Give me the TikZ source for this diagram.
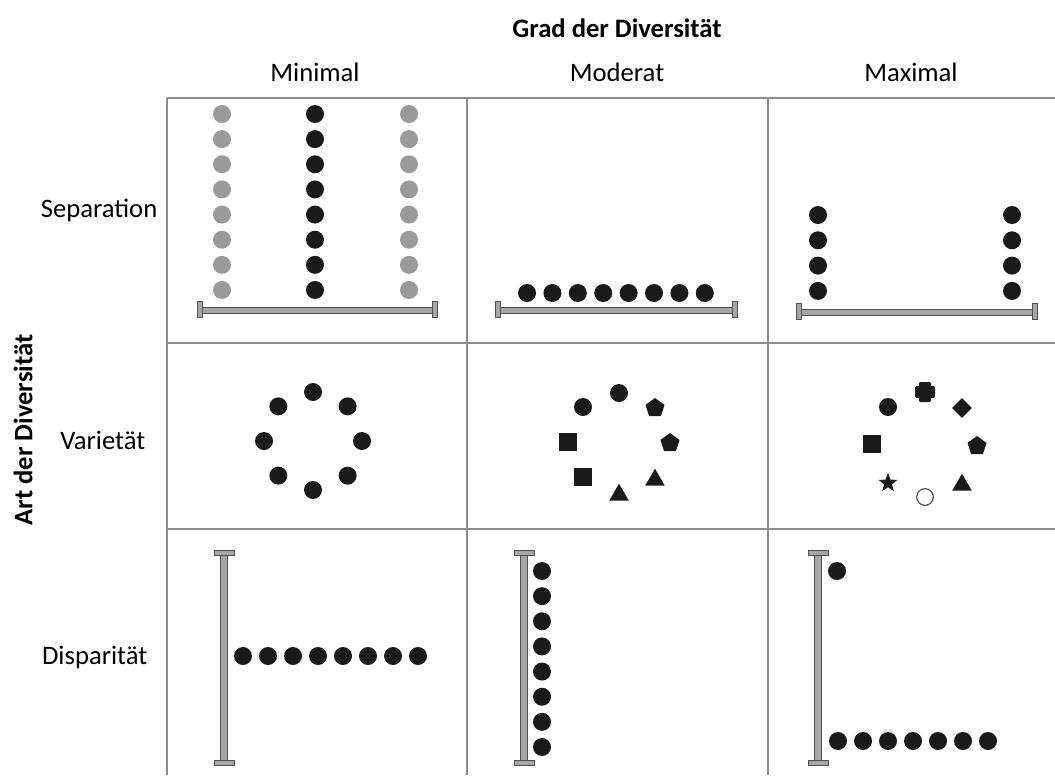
\documentclass[tikz,border=0pt]{standalone}
\usepackage{fontspec}
\setmainfont{Carlito}
\usetikzlibrary{shapes.geometric}
\definecolor{dotblack}{HTML}{1A1A1A}
\definecolor{dotgray}{HTML}{9A9A9A}
\definecolor{gridgray}{HTML}{8C8C8C}
\definecolor{rodfill}{HTML}{A6A6A6}
\definecolor{rodedge}{HTML}{505050}
\begin{document}
\begin{tikzpicture}[x=0.75pt,y=-0.75pt,
  font=\fontsize{20}{24}\selectfont,
  bdot/.style={circle,fill=dotblack,inner sep=0pt,minimum size=13.5pt},
  gdot/.style={circle,fill=dotgray,inner sep=0pt,minimum size=13.5pt},
  sq/.style={rectangle,fill=dotblack,inner sep=0pt,minimum size=14pt},
  penta/.style={regular polygon,regular polygon sides=5,fill=dotblack,inner sep=0pt,minimum size=15pt},
  tri/.style={regular polygon,regular polygon sides=3,fill=dotblack,inner sep=0pt,minimum size=17pt},
  dia/.style={diamond,fill=dotblack,inner sep=0pt,minimum width=15pt,minimum height=15pt},
  starshape/.style={star,star points=5,star point ratio=2.4,fill=dotblack,inner sep=0pt,minimum size=15pt},
  ring/.style={circle,draw=rodedge,fill=white,line width=0.9pt,inner sep=0pt,minimum size=12.5pt},
  crossh/.style={rectangle,fill=dotblack,inner sep=0pt,minimum width=15pt,minimum height=9pt,rounded corners=1pt},
  crossv/.style={rectangle,fill=dotblack,inner sep=0pt,minimum width=9pt,minimum height=15pt,rounded corners=1pt},
  rod/.style={fill=rodfill,draw=rodedge,line width=0.5pt},
  grid/.style={draw=gridgray,line width=1.1pt},
  hdr/.style={font=\fontsize{20}{24}\selectfont\bfseries}
]
\useasboundingbox (0,0) rectangle (1055,775);

% grid
\draw[grid] (167,98) -- (1055,98);
\draw[grid] (167,343) -- (1055,343);
\draw[grid] (167,529) -- (1055,529);
\draw[grid] (167,98) -- (167,775);
\draw[grid] (467,98) -- (467,775);
\draw[grid] (768,98) -- (768,775);

% headers
\node[hdr] (grad) at (617,28) {Grad der Diversität};
\node (cmin) at (315,72) {Minimal};
\node (cmod) at (617,72) {Moderat};
\node (cmax) at (911,72) {Maximal};
\node[hdr,rotate=90] (art) at (23,430) {Art der Diversität};
\node[anchor=east] (rsep) at (162,210) {Separation};
\node[anchor=east] (rvar) at (150,440) {Varietät};
\node[anchor=east] (rdis) at (152,657) {Disparität};

% Separation - minimal
\foreach \i in {0,...,7}{
  \node[gdot] (sa\i) at (222,{114+25.14*\i}) {};
  \node[bdot] (sb\i) at (315,{114+25.14*\i}) {};
  \node[gdot] (sc\i) at (409,{114+25.14*\i}) {};
}
\draw[rod] (200,307) rectangle (434,313);
\draw[rod] (197,301) rectangle (202,317);
\draw[rod] (432,301) rectangle (437,317);

% Separation - moderat
\foreach \i in {0,...,7}{
  \node[bdot] (sm\i) at ({527+25.4*\i},293) {};
}
\draw[rod] (498,307) rectangle (734,313);
\draw[rod] (495,301) rectangle (500,317);
\draw[rod] (732,301) rectangle (737,317);

% Separation - maximal
\foreach \i in {0,...,3}{
  \node[bdot] (sl\i) at (818,{215+25.3*\i}) {};
  \node[bdot] (sr\i) at (1012,{215+25.3*\i}) {};
}
\draw[rod] (799,309) rectangle (1034,315);
\draw[rod] (796,303) rectangle (801,319);
\draw[rod] (1032,303) rectangle (1037,319);

% Varietaet - minimal
\foreach \a [count=\k] in {90,45,0,-45,-90,-135,180,135}{
  \node[bdot] (vm\k) at ({313+49*cos(\a)},{441-49*sin(\a)}) {};
}

% Varietaet - moderat
\node[bdot] (vd1) at (619,393) {};
\node[penta] (vd2) at (655,408) {};
\node[penta] (vd3) at (670,443) {};
\node[tri] (vd4) at (655,480) {};
\node[tri] (vd5) at (619,495) {};
\node[sq] (vd6) at (583,477) {};
\node[sq] (vd7) at (568,442) {};
\node[bdot] (vd8) at (583,407) {};

% Varietaet - maximal
\node[crossh] (vx1a) at (925,392) {};
\node[crossv] (vx1b) at (925,392) {};
\node[dia] (vx2) at (962,408) {};
\node[penta] (vx3) at (977,446) {};
\node[tri] (vx4) at (962,485) {};
\node[ring] (vx5) at (925,497) {};
\node[starshape] (vx6) at (888,483) {};
\node[sq] (vx7) at (872,444) {};
\node[bdot] (vx8) at (888,407) {};

% Disparitaet - minimal
\draw[rod] (220,553) rectangle (227,762);
\draw[rod] (214,550) rectangle (234,555);
\draw[rod] (214,760) rectangle (234,765);
\foreach \i in {0,...,7}{
  \node[bdot] (dm\i) at ({243+25*\i},656) {};
}

% Disparitaet - moderat
\draw[rod] (520,553) rectangle (527,762);
\draw[rod] (514,550) rectangle (534,555);
\draw[rod] (514,760) rectangle (534,765);
\foreach \i in {0,...,7}{
  \node[bdot] (dd\i) at (542,{571+25.14*\i}) {};
}

% Disparitaet - maximal
\draw[rod] (814,553) rectangle (821,762);
\draw[rod] (808,550) rectangle (828,555);
\draw[rod] (808,760) rectangle (828,765);
\node[bdot] (dx0) at (837,571) {};
\foreach \i in {1,...,7}{
  \node[bdot] (dx\i) at ({838+25*(\i-1)},741) {};
}
\end{tikzpicture}
\end{document}
